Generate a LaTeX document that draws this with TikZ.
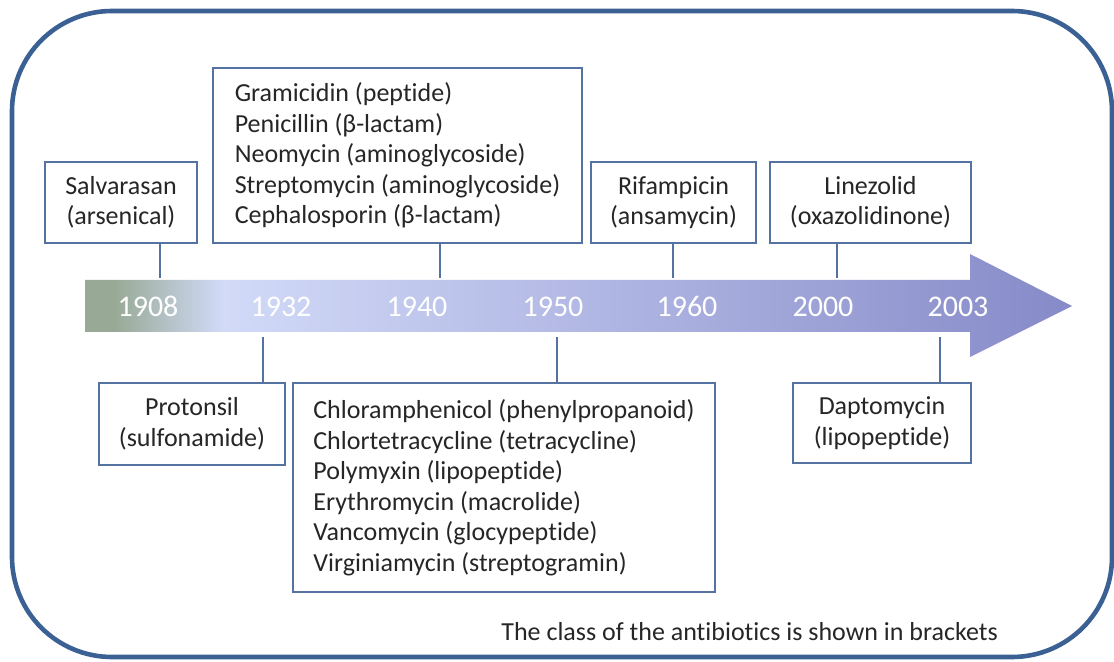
\documentclass[tikz,border=0pt]{standalone}
\usepackage{fontspec}
\setmainfont{Carlito}[RawFeature=-liga]
\usetikzlibrary{calc}
\definecolor{frameblue}{RGB}{58,96,148}
\definecolor{boxblue}{RGB}{84,114,162}
\definecolor{tlsage}{RGB}{152,170,150}
\definecolor{tllight}{RGB}{210,218,248}
\definecolor{tldark}{RGB}{134,138,200}
\definecolor{inkgrey}{RGB}{38,38,38}
\pgfdeclarehorizontalshading{tlshade}{100bp}{color(0bp)=(tlsage); color(26.5bp)=(tlsage); color(32bp)=(tllight); color(75bp)=(tldark); color(100bp)=(tldark)}
\tikzset{
  evbox/.style={draw=boxblue, line width=0.8pt, fill=white, text=inkgrey, inner sep=0pt, font=\fontsize{13}{15.25}\selectfont},
  leader/.style={draw=boxblue, line width=0.8pt},
  year/.style={text=white, inner sep=0pt, anchor=base, font=\fontsize{15}{18}\selectfont},
}
\newcommand{\eventbox}[7][align=center]{\node[evbox,#1,minimum width=#5*0.5pt,minimum height=#6*0.5pt] (#2) at (#3,#4) {#7};}
\newcommand{\yearlabel}[3]{\node[year] (#1) at (#2,316.5) {#3};}

\begin{document}
\begin{tikzpicture}[x=0.5pt,y=-0.5pt]
        \useasboundingbox (0,0) rectangle (1114,662);
        % frame
        \draw[frameblue, line width=2.3pt, rounded corners=50pt] (12,11) rectangle (1112,657);
        % time arrow
        \shade[shading=tlshade] (85,280) -- (970,280) -- (970,254) -- (1072,306) -- (970,357) -- (970,332) -- (85,332) -- cycle;
        % years
        \yearlabel{y1908}{148}{1908}
        \yearlabel{y1932}{281}{1932}
        \yearlabel{y1940}{417}{1940}
        \yearlabel{y1950}{553}{1950}
        \yearlabel{y1960}{687}{1960}
        \yearlabel{y2000}{823}{2000}
        \yearlabel{y2003}{958}{2003}
        % boxes above
        \eventbox{salv}{121}{202.5}{152}{81}{Salvarasan\\(arsenical)}
        \eventbox[align=left]{grami}{397.5}{155.5}{369}{175}{Gramicidin (peptide)\\Penicillin (β-lactam)\\Neomycin (aminoglycoside)\\Streptomycin (aminoglycoside)\\Cephalosporin (β-lactam)}
        \eventbox{rifa}{673.5}{202.5}{165}{81}{Rifampicin\\(ansamycin)}
        \eventbox{linez}{870.5}{202.5}{201}{81}{Linezolid\\(oxazolidinone)}
        % boxes below
        \eventbox{prot}{192}{424}{186}{82}{Protonsil\\(sulfonamide)}
        \eventbox[align=left]{chlo}{504}{487.5}{422}{209}{Chloramphenicol (phenylpropanoid)\\Chlortetracycline (tetracycline)\\Polymyxin (lipopeptide)\\Erythromycin (macrolide)\\Vancomycin (glocypeptide)\\Virginiamycin (streptogramin)}
        \eventbox{dapt}{882}{423}{178}{80}{Daptomycin\\(lipopeptide)}
        % leaders
        \coordinate (c1908) at (160,278);
        \coordinate (c1940) at (440,278);
        \coordinate (c1960) at (673,278);
        \coordinate (c2000) at (837,278);
        \coordinate (c1932) at (263,337);
        \coordinate (c1950) at (557,337);
        \coordinate (c2003) at (940,337);
        \draw[leader] (salv.south -| c1908) -- (c1908);
        \draw[leader] (grami.south -| c1940) -- (c1940);
        \draw[leader] (rifa.south -| c1960) -- (c1960);
        \draw[leader] (linez.south -| c2000) -- (c2000);
        \draw[leader] (prot.north -| c1932) -- (c1932);
        \draw[leader] (chlo.north -| c1950) -- (c1950);
        \draw[leader] (dapt.north -| c2003) -- (c2003);
        % note
        \node[anchor=base west, text=inkgrey, inner sep=0pt, font=\fontsize{13}{15}\selectfont] (note) at (501,640) {The class of the antibiotics is shown in brackets};
\end{tikzpicture}
\end{document}
